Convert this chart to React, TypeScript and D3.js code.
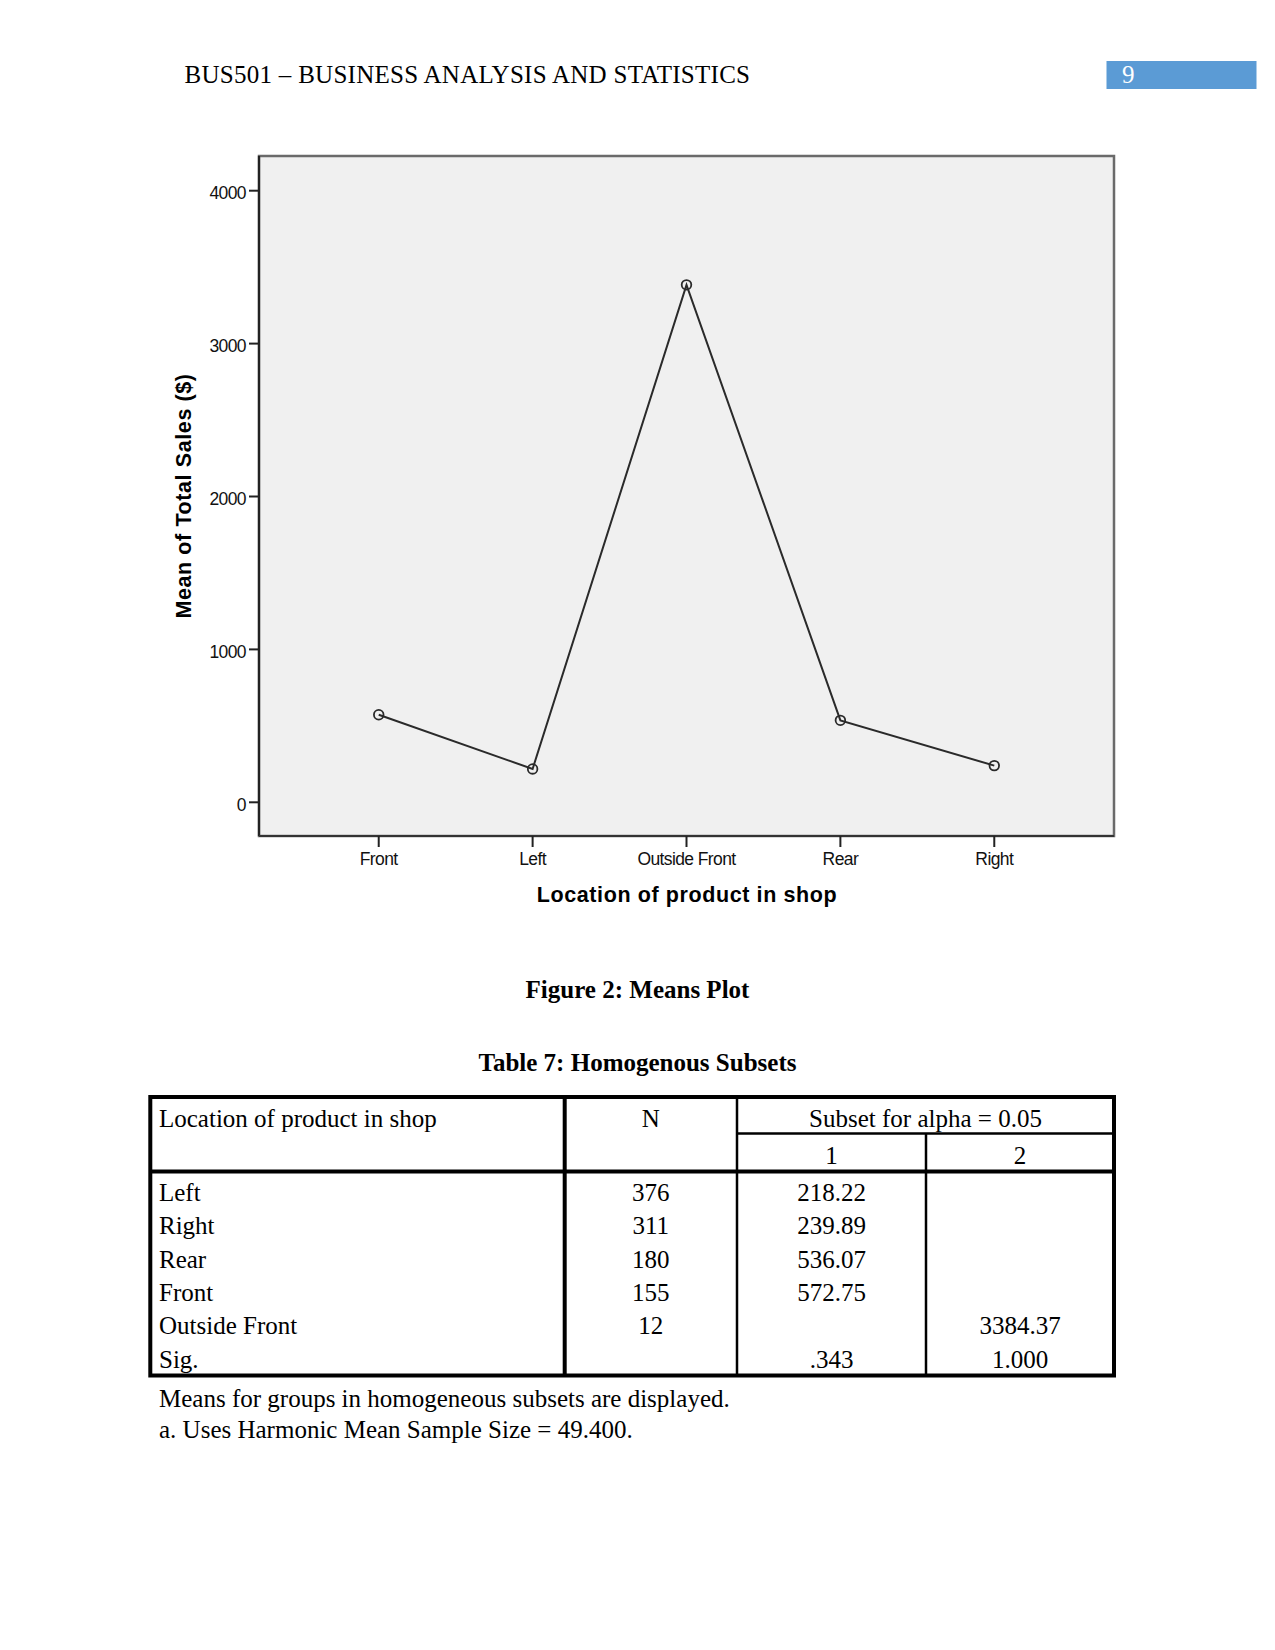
import React from "react";
import * as d3 from "d3";

// ---- Chart data ----
const categories = ["Front", "Left", "Outside Front", "Rear", "Right"];
const meanSales = [572.75, 218.22, 3384.37, 536.07, 239.89];
const yTicks = [0, 1000, 2000, 3000, 4000];

// ---- Table data ----
const tableLocations = ["Left", "Right", "Rear", "Front", "Outside Front", "Sig."];
const tableN = ["376", "311", "180", "155", "12", ""];
const subset1 = ["218.22", "239.89", "536.07", "572.75", "", ".343"];
const subset2 = ["", "", "", "", "3384.37", "1.000"];

const headerText = "BUS501 – BUSINESS ANALYSIS AND STATISTICS";
const pageNumber = "9";
const figureCaption = "Figure 2: Means Plot";
const tableCaption = "Table 7: Homogenous Subsets";
const footnotes = [
  "Means for groups in homogeneous subsets are displayed.",
  "a. Uses Harmonic Mean Sample Size = 49.400.",
];

const SERIF = "'Liberation Serif', 'Times New Roman', serif";
const SANS = "'Liberation Sans', Arial, sans-serif";

export default function App() {
  // plot frame
  const left = 259, right = 1114, top = 156, bottom = 836;
  const x = d3.scalePoint<string>().domain(categories).range([left, right]).padding(0.778);
  const y = d3.scaleLinear().domain([0, 4000]).range([802.3, 190.7]);
  const line = d3
    .line<number>()
    .x((_, i) => x(categories[i]) as number)
    .y((d) => y(d));

  // table geometry
  const tL = 150.3, tR = 1114, tT = 1097, tB = 1375.5;
  const c1 = 564.7, c2 = 737, c3 = 926;
  const hSep = 1171.5, subSep = 1133.5;
  const rowBase = d3.scaleLinear().domain([0, 1]).range([1201, 1234.3]);
  const colCenter = (a: number, b: number) => (a + b) / 2;

  return (
    <svg
      width={1275}
      height={1650}
      style={{ position: "absolute", left: 0, top: 0, background: "#fff" }}
    >
      <rect x={0} y={0} width={1275} height={1650} fill="#fff" />
      {/* Page header */}
      <text x={184.6} y={82.7} fontFamily={SERIF} fontSize={25} letterSpacing={0.27} fill="#000">
        {headerText}
      </text>
      <rect x={1106.5} y={61} width={150} height={28} fill="#5B9BD5" />
      <text x={1122} y={82.7} fontFamily={SERIF} fontSize={25} fill="#fff">
        {pageNumber}
      </text>

      {/* Plot background and frame */}
      <rect x={left} y={top} width={right - left} height={bottom - top} fill="#F0F0F0" stroke="#6a6a6a" strokeWidth={2.5} />
      <line x1={left} x2={left} y1={top} y2={bottom} stroke="#222" strokeWidth={2.2} />
      <line x1={left} x2={right} y1={bottom} y2={bottom} stroke="#333" strokeWidth={2.2} />

      {/* Y axis ticks */}
      {yTicks.map((t) => (
        <g key={t}>
          <line x1={249} x2={left} y1={y(t)} y2={y(t)} stroke="#222" strokeWidth={2} />
          <text x={246} y={y(t) + 8.6} textAnchor="end" fontFamily={SANS} fontSize={17.5} letterSpacing={-0.6} fill="#111">
            {t}
          </text>
        </g>
      ))}

      {/* X axis ticks */}
      {categories.map((c) => (
        <g key={c}>
          <line x1={x(c)} x2={x(c)} y1={bottom} y2={847} stroke="#222" strokeWidth={2} />
          <text x={x(c)} y={865} textAnchor="middle" fontFamily={SANS} fontSize={17.5} letterSpacing={-0.6} fill="#111">
            {c}
          </text>
        </g>
      ))}

      {/* Axis titles */}
      <text x={687} y={901.7} textAnchor="middle" fontFamily={SANS} fontWeight="bold" fontSize={21.5} letterSpacing={0.6} fill="#000">
        Location of product in shop
      </text>
      <text
        transform={`translate(191, 496) rotate(-90)`}
        textAnchor="middle"
        fontFamily={SANS}
        fontWeight="bold"
        fontSize={21.5}
        letterSpacing={0.6}
        fill="#000"
      >
        Mean of Total Sales ($)
      </text>

      {/* Means line and markers */}
      <path d={line(meanSales) || ""} fill="none" stroke="#2a2a2a" strokeWidth={2} />
      {meanSales.map((v, i) => (
        <circle key={i} cx={x(categories[i])} cy={y(v)} r={4.8} fill="none" stroke="#2a2a2a" strokeWidth={1.8} />
      ))}

      {/* Captions */}
      <text x={637.5} y={997.7} textAnchor="middle" fontFamily={SERIF} fontWeight="bold" fontSize={25} fill="#000">
        {figureCaption}
      </text>
      <text x={637.5} y={1071} textAnchor="middle" fontFamily={SERIF} fontWeight="bold" fontSize={25} fill="#000">
        {tableCaption}
      </text>

      {/* Table lines */}
      <g stroke="#000">
        <rect x={tL} y={tT} width={tR - tL} height={tB - tT} fill="none" strokeWidth={4} />
        <line x1={tL} x2={tR} y1={hSep} y2={hSep} strokeWidth={4} />
        <line x1={c1} x2={c1} y1={tT} y2={tB} strokeWidth={4} />
        <line x1={c2} x2={c2} y1={tT} y2={tB} strokeWidth={2.5} />
        <line x1={c3} x2={c3} y1={subSep} y2={tB} strokeWidth={2.5} />
        <line x1={c2} x2={tR} y1={subSep} y2={subSep} strokeWidth={2.5} />
      </g>

      {/* Table header text */}
      <g fontFamily={SERIF} fontSize={25} fill="#000">
        <text x={159} y={1126.7}>Location of product in shop</text>
        <text x={colCenter(c1, c2)} y={1126.7} textAnchor="middle">N</text>
        <text x={colCenter(c2, tR)} y={1126.7} textAnchor="middle">Subset for alpha = 0.05</text>
        <text x={colCenter(c2, c3)} y={1163.5} textAnchor="middle">1</text>
        <text x={colCenter(c3, tR)} y={1163.5} textAnchor="middle">2</text>
        {tableLocations.map((loc, i) => (
          <g key={loc}>
            <text x={159} y={rowBase(i)}>{loc}</text>
            <text x={colCenter(c1, c2)} y={rowBase(i)} textAnchor="middle">{tableN[i]}</text>
            <text x={colCenter(c2, c3)} y={rowBase(i)} textAnchor="middle">{subset1[i]}</text>
            <text x={colCenter(c3, tR)} y={rowBase(i)} textAnchor="middle">{subset2[i]}</text>
          </g>
        ))}
        {footnotes.map((f, i) => (
          <text key={i} x={159} y={1406.7 + i * 31.6}>{f}</text>
        ))}
      </g>
    </svg>
  );
}
